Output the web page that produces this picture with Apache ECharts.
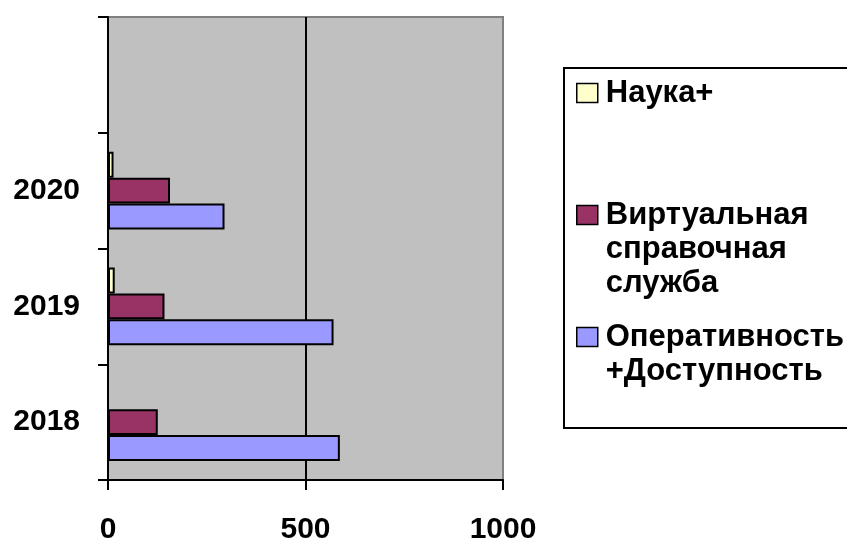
<!DOCTYPE html>
<html>
<head>
<meta charset="utf-8">
<script src="https://cdn.jsdelivr.net/npm/echarts@6/dist/echarts.min.js"></script>
<style>
  html, body { margin: 0; padding: 0; background: #fff; }
  #chart { width: 847px; height: 540px; }
</style>
</head>
<body>
<div id="chart"></div>
<script>
// Years on the category axis (the last, empty slot leaves room at the top)
const years = ['2018', '2019', '2020', ''];
// Series values per year
const nauka = [null, 17, 14];
const virtualnaya = [126, 143, 157];
const operativnost = [587, 571, 295];
// Value axis ticks
const valueTicks = [0, 500, 1000];
// Series names, top bar of each group first
const seriesNames = ['Наука+', 'Виртуальная справочная служба', 'Оперативность +Доступность'];

const FONT = '"Liberation Sans", Arial, sans-serif';
const colors = ['#FFFFCC', '#993366', '#9999FF'];
const seriesData = [nauka, virtualnaya, operativnost];

const chart = echarts.init(document.getElementById('chart'), null, { renderer: 'canvas' });

const LH = 34;
const LEGEND_FS = 31;
// Legend: one block per series; leading blank lines keep the first text line level with the swatch
const legendTops = [76, 130, 286];
const legends = seriesNames.map((name, i) => {
  const words = name.split(' ');
  const blank = new Array(words.length - 1).fill('');
  return {
    data: [name],
    orient: 'vertical',
    left: 576,
    top: legendTops[i],
    padding: 0,
    itemWidth: 21,
    itemHeight: 19,
    icon: 'rect',
    selectedMode: false,
    itemStyle: { borderColor: '#000', borderWidth: 1.5 },
    formatter: n => blank.concat(n.split(' ').map(w => '{t|' + w + '}')).join('\n'),
    textStyle: {
      fontFamily: FONT, fontSize: LEGEND_FS, fontWeight: 'bold', color: '#000', lineHeight: LH,
      rich: {
        t: { fontFamily: FONT, fontSize: LEGEND_FS, fontWeight: 'bold', color: '#000', lineHeight: LH, padding: [0, 0, 0, 3] }
      }
    }
  };
});

const option = {
  animation: false,
  backgroundColor: '#fff',
  grid: {
    left: 108, right: 344, top: 17, bottom: 60,
    outerBoundsMode: 'none',
    show: true, backgroundColor: '#C0C0C0', borderColor: '#808080', borderWidth: 2
  },
  graphic: [{
    type: 'rect',
    shape: { x: 564, y: 68, width: 300, height: 360 },
    style: { fill: '#fff', stroke: '#000', lineWidth: 2 },
    z: -1
  }],
  legend: legends,
  xAxis: {
    type: 'value',
    min: valueTicks[0],
    max: valueTicks[valueTicks.length - 1],
    interval: valueTicks[1] - valueTicks[0],
    axisLine: { show: true, lineStyle: { color: '#000', width: 2 } },
    axisTick: { show: true, length: 10, inside: false, lineStyle: { color: '#000', width: 2 } },
    axisLabel: {
      fontFamily: FONT, fontSize: 30, fontWeight: 'bold', color: '#000', margin: 35,
      formatter: v => String(v)
    },
    splitLine: { show: true, showMinLine: false, showMaxLine: false, lineStyle: { color: '#000', width: 2 } }
  },
  yAxis: {
    type: 'category',
    data: years,
    axisLine: { show: true, lineStyle: { color: '#000', width: 2 } },
    axisTick: { show: true, length: 10, alignWithLabel: false, lineStyle: { color: '#000', width: 2 } },
    axisLabel: { fontFamily: FONT, fontSize: 30, fontWeight: 'bold', color: '#000', margin: 28 }
  },
  series: seriesNames.map((name, i) => ({
    name: name,
    type: 'bar',
    data: seriesData[i],
    barGap: '0%',
    barCategoryGap: '33%',
    itemStyle: { color: colors[i], borderColor: '#000', borderWidth: 2 }
  }))
};

chart.setOption(option);
</script>
</body>
</html>
